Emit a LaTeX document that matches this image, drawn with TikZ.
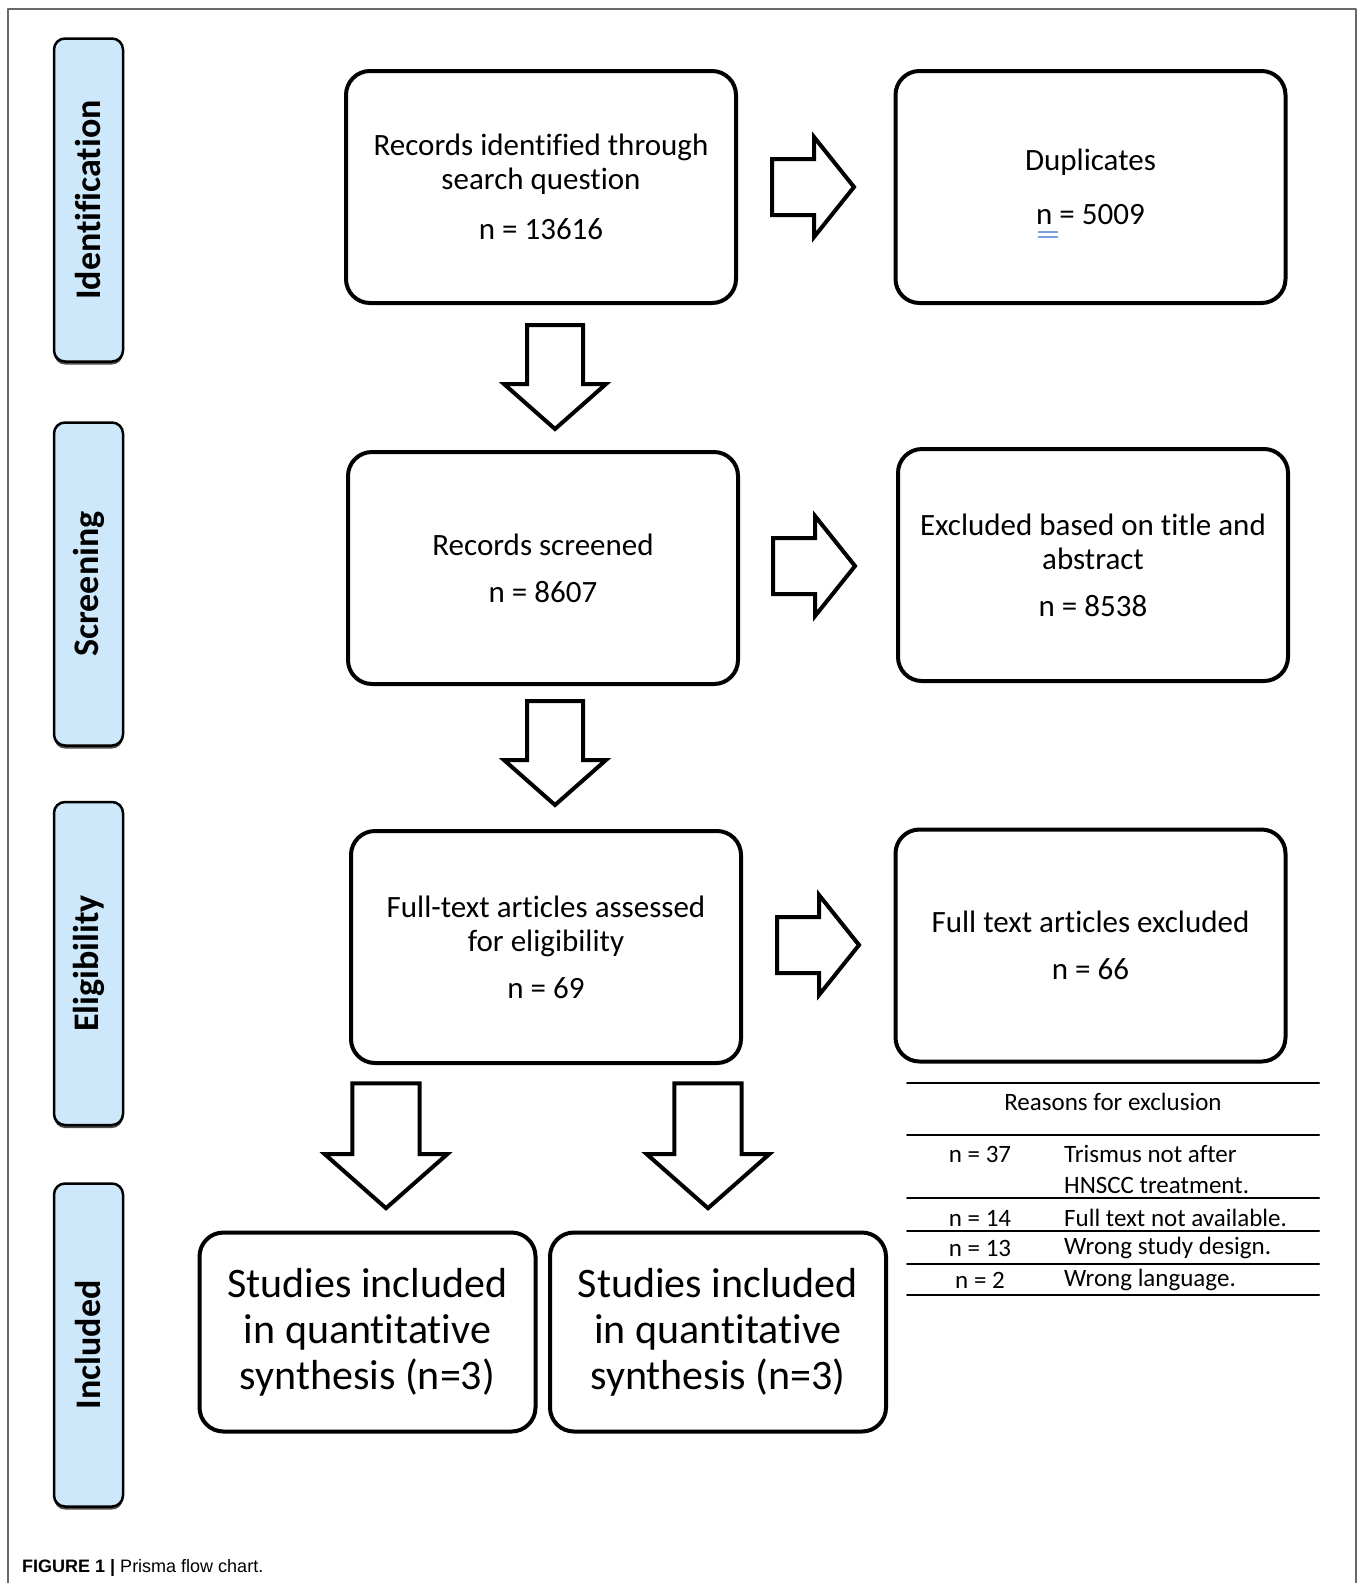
\documentclass[tikz,border=0pt]{standalone}
\usepackage{fontspec}
\setmainfont{Carlito}[RawFeature={-liga;-clig;-dlig;-calt}]
\newfontfamily\capfont{Liberation Sans}
\usetikzlibrary{calc,shadows}

\definecolor{stageblue}{RGB}{205,232,250}
\definecolor{framegray}{RGB}{105,105,105}
\definecolor{spellblue}{RGB}{120,160,225}

\tikzset{
  stagebox/.style={draw, line width=2.5pt, fill=stageblue, rounded corners=11pt,
    minimum width=323pt, minimum height=69pt, inner sep=0pt, rotate=90,
    font=\bfseries\fontsize{36}{40}\selectfont,
    drop shadow={shadow xshift=0pt, shadow yshift=-3pt, fill=black!70, opacity=1}},
  flowbox/.style={draw, line width=4pt, rounded corners=24pt, minimum width=390pt,
    minimum height=232pt, align=center, font=\fontsize{31}{34}\selectfont},
  bigbox/.style={flowbox, minimum width=336pt, minimum height=199pt,
    font=\fontsize{42}{46}\selectfont},
  tabtext/.style={inner sep=0pt, font=\fontsize{25}{31}\selectfont},
  arrowline/.style={draw, line width=4pt, line join=miter, fill=white},
  downarrow/.pic={\path[arrowline] (-28,2) -- (28,2) -- (28,61) -- (51,61) -- (0,106)
    -- (-51,61) -- (-28,61) -- cycle;},
  rightarrow/.pic={\path[arrowline] (2,-28) -- (44,-28) -- (44,-50) -- (84,0)
    -- (44,50) -- (44,28) -- (2,28) -- cycle;},
}

\begin{document}
\begin{tikzpicture}[x=1pt, y=-1pt, line cap=round, line join=round]

  %% ════ 外框 ════
  \draw[framegray, line width=2pt] (7.5,1583) -- (7.5,8.5) -- (1356,8.5) -- (1356,1583);

  %% ════ 阶段标签 ════
  \node[stagebox] (idn)  at (88.5,200)   {Identification};
  \node[stagebox] (scrn) at (88.5,584)   {Screening};
  \node[stagebox] (elig) at (88.5,963.5) {Eligibility};
  \node[stagebox] (incl) at (88.5,1345)  {Included};

  %% ════ 流程框 ════
  \node[flowbox] (rec) at (541,187)    {Records identified through\\search question\\[16pt]n = 13616};
  \node[flowbox] (dup) at (1090.5,187) {Duplicates\\[20pt]n = 5009};
  \node[flowbox] (scr) at (543,568)    {Records screened\\[13pt]n = 8607};
  \node[flowbox] (exc) at (1093,565)   {Excluded based on title and\\abstract\\[13pt]n = 8538};
  \node[flowbox] (ful) at (546,947)    {Full-text articles assessed\\for eligibility\\[13pt]n = 69};
  \node[flowbox] (fex) at (1090.5,945.5) {Full text articles excluded\\[13pt]n = 66};
  \node[bigbox] (inc1) at (367.5,1332) {Studies included\\in quantitative\\synthesis (n=3)};
  \node[bigbox] (inc2) at (718,1332)   {Studies included\\in quantitative\\synthesis (n=3)};

  % 拼写检查的双下划线
  \draw[spellblue, line width=1.5pt] ($(dup.center)+(-52,45)$) -- ++(19,0);
  \draw[spellblue, line width=1.5pt] ($(dup.center)+(-52,50)$) -- ++(19,0);

  %% ════ 空心箭头 ════
  \pic at ($(rec.east)+(32,0)$) {rightarrow};
  \pic at ($(scr.east)+(31,-2)$) {rightarrow};
  \pic at ($(ful.east)+(32,-2)$) {rightarrow};
  \pic at ($(rec.south)+(14,18)$) {downarrow};
  \pic at ($(scr.south)+(12,13)$) {downarrow};
  \pic[scale=1.2] at ($(ful.south)+(-160,16)$) {downarrow};
  \pic[scale=1.2] at ($(ful.south)+(162,16)$) {downarrow};

  %% ════ 排除原因表 ════
  \foreach \yy in {1083,1135,1198,1231,1264,1295}
    \draw[line width=2pt] (907,\yy) -- (1319,\yy);
  \node[tabtext] (rsn) at (1113,1102) {Reasons for exclusion};
  \node[tabtext] (n37) at (980,1154) {n = 37};
  \node[tabtext, anchor=west, align=left] (r37) at (1064,1169.5) {Trismus not after\\HNSCC treatment.};
  \node[tabtext] (n14) at (980,1218) {n = 14};
  \node[tabtext, anchor=west] (r14) at (1064,1218) {Full text not available.};
  \node[tabtext] (n13) at (980,1248) {n = 13};
  \node[tabtext, anchor=west] (r13) at (1064,1248) {Wrong study design.};
  \node[tabtext] (n2) at (980,1280) {n = 2};
  \node[tabtext, anchor=west] (r2) at (1064,1280) {Wrong language.};

  %% ════ 图题 ════
  \node[anchor=west, inner sep=0pt, font=\capfont\fontsize{18}{22}\selectfont] (cap)
    at (22,1568) {\textbf{FIGURE 1 |} Prisma flow chart.};

  % 钉死画布
  \pgfresetboundingbox
  \path[use as bounding box] (0,0) rectangle (1358,1583);
\end{tikzpicture}
\end{document}
